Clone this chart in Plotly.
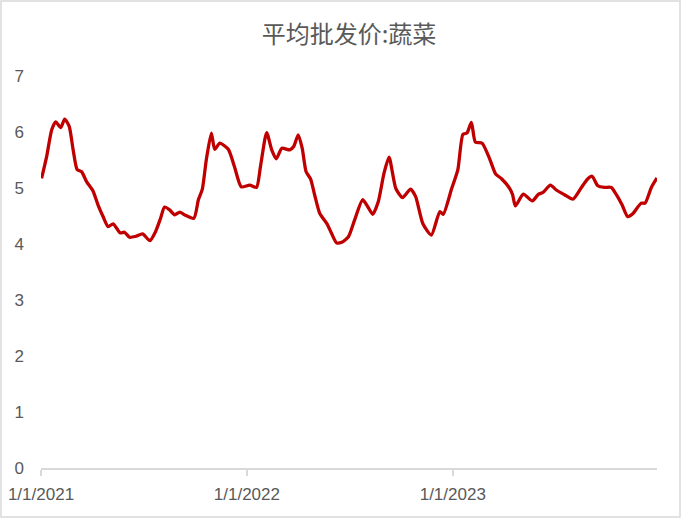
import plotly.graph_objects as go

dates = [
    "2021-01-02", "2021-01-11", "2021-01-20", "2021-01-27", "2021-02-05", "2021-02-12",
    "2021-02-20", "2021-02-27", "2021-03-06", "2021-03-14", "2021-03-23", "2021-04-03",
    "2021-04-12", "2021-04-21", "2021-04-30", "2021-05-09", "2021-05-21", "2021-05-29",
    "2021-06-07", "2021-06-19", "2021-06-30", "2021-07-13", "2021-07-23", "2021-08-01",
    "2021-08-08", "2021-08-17", "2021-08-26", "2021-09-04", "2021-09-13", "2021-09-29",
    "2021-10-07", "2021-10-14", "2021-10-21", "2021-10-30", "2021-11-05", "2021-11-14",
    "2021-11-29", "2021-12-10", "2021-12-22",
    "2022-01-06", "2022-01-18", "2022-01-25", "2022-02-05", "2022-02-14", "2022-02-22",
    "2022-03-04", "2022-03-18", "2022-03-25", "2022-04-02", "2022-04-09", "2022-04-16",
    "2022-04-24", "2022-05-01", "2022-05-10", "2022-05-23", "2022-05-31", "2022-06-09",
    "2022-06-18", "2022-06-30", "2022-07-11", "2022-07-25", "2022-08-03", "2022-08-12",
    "2022-08-22", "2022-09-01", "2022-09-10", "2022-09-22", "2022-10-04", "2022-10-18",
    "2022-10-27", "2022-11-09", "2022-11-24", "2022-12-09", "2022-12-15", "2022-12-30",
    "2023-01-10", "2023-01-19", "2023-01-26", "2023-02-03", "2023-02-10", "2023-02-22",
    "2023-03-07", "2023-03-18", "2023-03-28", "2023-04-12", "2023-04-17", "2023-04-22",
    "2023-05-06", "2023-05-22", "2023-06-02", "2023-06-10", "2023-06-23", "2023-07-04",
    "2023-07-18", "2023-08-02", "2023-08-17", "2023-08-28", "2023-09-05", "2023-09-15",
    "2023-09-27", "2023-10-09", "2023-10-18", "2023-10-28", "2023-11-07", "2023-11-16",
    "2023-12-01", "2023-12-08", "2023-12-19", "2023-12-29",
]

prices = [
    5.17, 5.56, 6.04, 6.18, 6.08, 6.23,
    6.10, 5.68, 5.33, 5.29, 5.11, 4.95,
    4.70, 4.49, 4.31, 4.36, 4.20, 4.21,
    4.12, 4.14, 4.18, 4.06, 4.22, 4.46,
    4.66, 4.61, 4.52, 4.57, 4.52, 4.46,
    4.79, 4.98, 5.50, 5.98, 5.69, 5.80,
    5.69, 5.38, 5.02,
    5.05, 5.01, 5.38, 5.99, 5.68, 5.52,
    5.71, 5.68, 5.74, 5.95, 5.71, 5.29,
    5.16, 4.88, 4.55, 4.36, 4.19, 4.02,
    4.03, 4.13, 4.43, 4.79, 4.67, 4.53,
    4.76, 5.26, 5.55, 4.99, 4.83, 4.98,
    4.85, 4.36, 4.16, 4.58, 4.53, 4.99,
    5.33, 5.96, 5.98, 6.17, 5.82, 5.80,
    5.53, 5.25, 5.17, 4.99, 4.88, 4.68,
    4.89, 4.77, 4.89, 4.92, 5.05, 4.96,
    4.88, 4.80, 5.01, 5.16, 5.21, 5.04,
    5.01, 5.01, 4.88, 4.70, 4.49, 4.54,
    4.73, 4.73, 5.01, 5.18,
]

x_tick_vals = ["2021-01-01", "2022-01-01", "2023-01-01"]
x_tick_text = ["1/1/2021", "1/1/2022", "1/1/2023"]
y_ticks = [0, 1, 2, 3, 4, 5, 6, 7]

W, H = 681, 518
ML, MR, MT, MB = 41, 24, 76, 50
pw = W - ML - MR
ph = H - MT - MB

fig = go.Figure()
fig.add_trace(go.Scatter(
    x=dates, y=prices, mode="lines",
    line=dict(color="#C00000", width=3.3, shape="spline", smoothing=0.6),
    showlegend=False, hoverinfo="x+y",
))

fig.update_layout(
    width=W, height=H,
    margin=dict(l=ML, r=MR, t=MT, b=MB),
    paper_bgcolor="white", plot_bgcolor="white",
    font=dict(family="Liberation Sans, Arial, sans-serif", color="#595959"),
    title=dict(
        text="平均批发价:蔬菜",
        x=0.5, xanchor="center", xref="paper",
        y=1 - 35 / H, yanchor="middle", yref="container",
        font=dict(family="Noto Sans CJK SC", size=24, color="#595959"),
    ),
    xaxis=dict(
        type="date",
        range=["2021-01-01", "2023-12-29"],
        tickvals=x_tick_vals, ticktext=x_tick_text,
        showgrid=False, zeroline=False,
        showline=True, linecolor="#d9d9d9", linewidth=1.5,
        ticks="outside", ticklen=6, tickcolor="#d9d9d9", tickwidth=1.5,
        tickfont=dict(size=17, color="#595959"),
        ticklabelstandoff=4, automargin=False,
    ),
    yaxis=dict(
        range=[0, 7], tickvals=y_ticks,
        showgrid=False, zeroline=False, showline=False,
        ticks="", tickfont=dict(size=17, color="#595959"),
        ticklabelstandoff=16, automargin=False,
    ),
    shapes=[dict(
        type="rect", xref="paper", yref="paper",
        x0=-(ML - 1) / pw, x1=1 + (MR - 1) / pw,
        y0=-(MB - 1) / ph, y1=1 + (MT - 1) / ph,
        line=dict(color="#d9d9d9", width=1.5), layer="below",
    )],
)

fig.write_html(
    "out.html",
    config={"displayModeBar": False},
    post_script="document.body.style.margin='0';document.body.style.padding='0';document.body.style.overflow='hidden';",
)
